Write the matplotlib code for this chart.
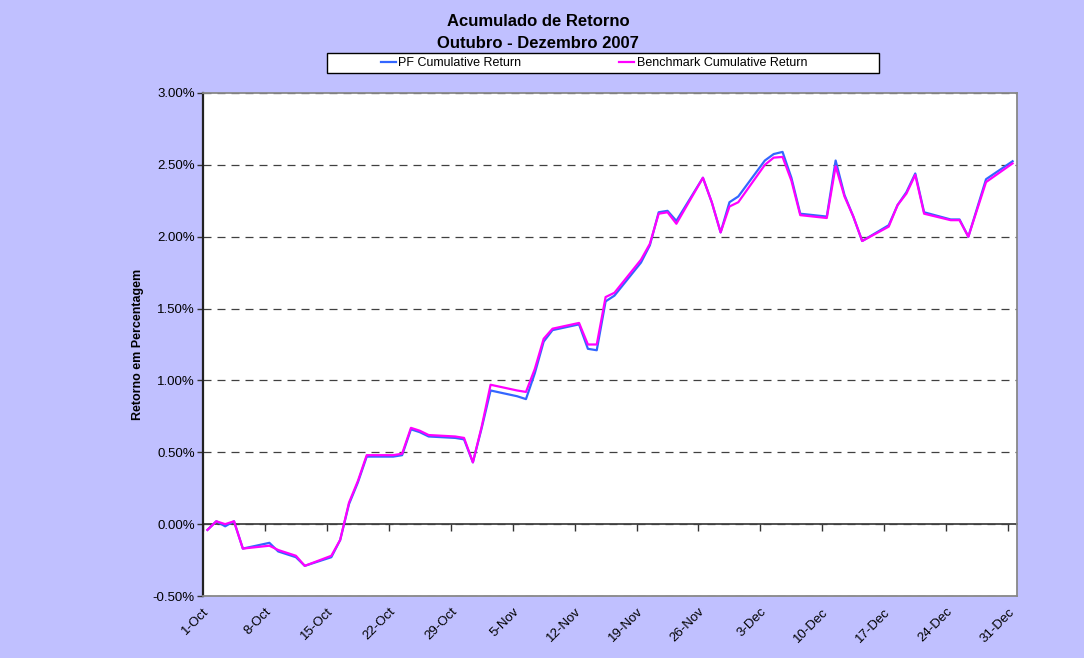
import datetime as dt
import matplotlib
matplotlib.use('Agg')
import matplotlib.pyplot as plt
import matplotlib.dates as mdates
from matplotlib.ticker import FuncFormatter
from matplotlib.patches import Rectangle

plt.rcParams['font.family'] = ['Liberation Sans', 'DejaVu Sans']
plt.rcParams['axes.unicode_minus'] = False

# trading days (Oct - Dec 2007)
oct_days = [1, 2, 3, 4, 5, 8, 9, 10, 11, 12, 15, 16, 17, 18, 19, 22, 23, 24, 25, 26, 29, 30, 31]
nov_days = [1, 2, 5, 6, 7, 8, 9, 12, 13, 14, 15, 16, 19, 20, 21, 22, 23, 26, 27, 28, 29, 30]
dec_days = [3, 4, 5, 6, 7, 10, 11, 12, 13, 14, 17, 18, 19, 20, 21, 24, 25, 26, 27, 28, 31]

# cumulative return in %
pf_return = [-0.04, 0.02, -0.015, 0.02, -0.17, -0.13, -0.19, -0.21, -0.23, -0.29,
             -0.23, -0.11, 0.14, 0.29, 0.47, 0.47, 0.48, 0.66, 0.64, 0.61, 0.60, 0.59, 0.43,
             0.67, 0.93, 0.89, 0.87, 1.05, 1.27, 1.35, 1.39, 1.22, 1.21, 1.55, 1.59,
             1.82, 1.94, 2.17, 2.18, 2.11, 2.41, 2.24, 2.03, 2.24, 2.28,
             2.53, 2.575, 2.59, 2.41, 2.16, 2.14, 2.53, 2.29, 2.14, 1.97,
             2.08, 2.22, 2.31, 2.44, 2.17, 2.12, 2.12, 2.00, 2.20, 2.40, 2.525]
bm_return = [-0.04, 0.02, 0.00, 0.02, -0.17, -0.15, -0.18, -0.20, -0.22, -0.29,
             -0.22, -0.11, 0.15, 0.30, 0.48, 0.48, 0.49, 0.67, 0.65, 0.62, 0.61, 0.60, 0.43,
             0.68, 0.97, 0.93, 0.92, 1.08, 1.29, 1.36, 1.40, 1.25, 1.25, 1.58, 1.61,
             1.84, 1.95, 2.16, 2.17, 2.09, 2.41, 2.24, 2.03, 2.21, 2.24,
             2.50, 2.55, 2.555, 2.39, 2.15, 2.13, 2.49, 2.28, 2.14, 1.97,
             2.07, 2.22, 2.30, 2.43, 2.16, 2.115, 2.115, 2.00, 2.19, 2.38, 2.51]

tick_labels = ['1-Oct', '8-Oct', '15-Oct', '22-Oct', '29-Oct', '5-Nov', '12-Nov',
               '19-Nov', '26-Nov', '3-Dec', '10-Dec', '17-Dec', '24-Dec', '31-Dec']
y_ticks = [-0.5, 0.0, 0.5, 1.0, 1.5, 2.0, 2.5, 3.0]

dates = ([dt.date(2007, 10, d) for d in oct_days] +
         [dt.date(2007, 11, d) for d in nov_days] +
         [dt.date(2007, 12, d) for d in dec_days])
x = mdates.date2num(dates)
tick_dates = [dt.date(2007, 10, 1) + dt.timedelta(weeks=i) for i in range(len(tick_labels))]
tick_x = mdates.date2num(tick_dates) - 0.5  # excel puts ticks on day boundaries

fig = plt.figure(figsize=(10.84, 6.58), dpi=100, facecolor='#C0C0FF')
ax = fig.add_axes([0.1873, 0.0942, 0.7509, 0.7645])
ax.set_facecolor('white')

l1, = ax.plot(x, pf_return, color='#3366FF', lw=1.6, zorder=3)
l2, = ax.plot(x, bm_return, color='#FF00FF', lw=1.6, zorder=4)

ax.set_xlim(x[0] - 0.5, x[-1] + 0.5)
ax.set_ylim(y_ticks[0], y_ticks[-1])
ax.set_yticks(y_ticks)
ax.yaxis.set_major_formatter(FuncFormatter(lambda v, p: '%.2f%%' % v))
ax.grid(axis='y', color='#404040', linestyle=(0, (6.4, 4.8)), linewidth=0.9)
ax.set_axisbelow(True)

ax.set_xticks(tick_x, tick_labels)
ax.tick_params(axis='x', length=0, pad=7, labelsize=9.5)
plt.setp(ax.get_xticklabels(), rotation=45, ha='right', va='top', rotation_mode='anchor')
ax.tick_params(axis='y', length=4, width=1, color='#333333', labelsize=9.5, pad=1.8)

# x axis line crosses at 0 with its tick marks
sec = ax.secondary_xaxis((0 - y_ticks[0]) / (y_ticks[-1] - y_ticks[0]))
sec.set_xticks(tick_x)
sec.tick_params(axis='x', length=5, width=1, color='#333333', direction='out', labelbottom=False)
sec.spines['bottom'].set_color('#333333')
sec.spines['bottom'].set_linewidth(1.2)

ax.spines['left'].set_color('#222222')
ax.spines['left'].set_linewidth(1.6)
for s in ['top', 'right', 'bottom']:
    ax.spines[s].set_color('#888888')
    ax.spines[s].set_linewidth(1.3)

ax.set_ylabel('Retorno em Percentagem', fontsize=9, fontweight='bold')
ax.yaxis.set_label_coords(-0.0725, 0.5)

fig.text(538 / 1084, 1 - 21 / 658, 'Acumulado de Retorno', ha='center', va='center',
         fontsize=12, fontweight='bold')
fig.text(538 / 1084, 1 - 44 / 658, 'Outubro - Dezembro 2007', ha='center', va='center',
         fontsize=12, fontweight='bold')

# legend box
fig.add_artist(Rectangle((327 / 1084, 1 - 73 / 658), 552 / 1084, 20 / 658,
                         transform=fig.transFigure, facecolor='white',
                         edgecolor='black', lw=1, zorder=1))
fig.legend([l1, l2], ['PF Cumulative Return', 'Benchmark Cumulative Return'],
           loc='center left', bbox_to_anchor=(381 / 1084, 1 - 63.5 / 658), ncol=2,
           frameon=False, fontsize=9, handlelength=1.2, handletextpad=0.2,
           columnspacing=7.8, borderpad=0, borderaxespad=0)

fig.savefig('out.png', dpi=100, facecolor=fig.get_facecolor())
